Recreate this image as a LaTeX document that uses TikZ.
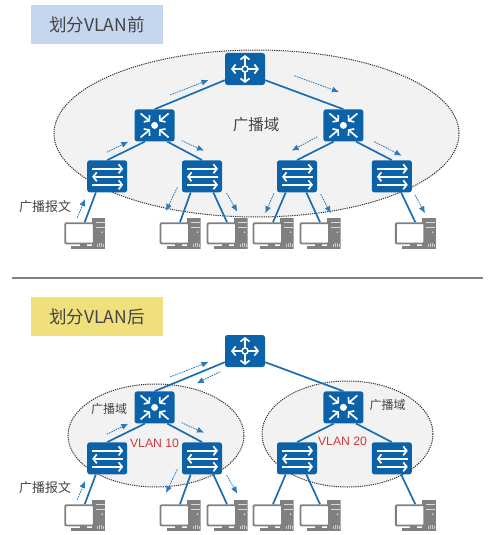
\documentclass[tikz,border=0pt]{standalone}
\usepackage{fontspec}
\setmainfont{Liberation Sans}
\newfontfamily\cjk{Noto Sans CJK SC}
\usetikzlibrary{arrows.meta, positioning, shapes.geometric}
\definecolor{netblue}{HTML}{0B62A8}
\definecolor{linkblue}{HTML}{1A6DB3}
\definecolor{flowblue}{HTML}{2A78BE}
\definecolor{pcgray}{HTML}{808080}
\definecolor{textgray}{HTML}{444444}
\definecolor{titleblue}{HTML}{C5D6EF}
\definecolor{titleyellow}{HTML}{F0E07C}
\definecolor{vlanred}{HTML}{D5373D}

\begin{document}
\begin{tikzpicture}[
  x=1pt, y=-1pt,
  iconline/.style={white, line width=1.7pt, -{Straight Barb[length=3.5pt,width=9pt]}},
  routerbox/.style={rectangle, rounded corners=2.5pt, fill=netblue, inner sep=0pt, minimum width=40pt, minimum height=32pt,
    path picture={\begin{scope}[shift={(path picture bounding box.center)}]
      \draw[iconline] (0,0) -- (0,-14);
      \draw[iconline] (0,0) -- (0,14);
      \draw[iconline] (0,0) -- (-14,0);
      \draw[iconline] (0,0) -- (14,0);
      \draw[white, line width=1.5pt, fill=netblue] (0,0) circle (3pt);
    \end{scope}}},
  corebox/.style={rectangle, rounded corners=2.5pt, fill=netblue, inner sep=0pt, minimum width=40pt, minimum height=32pt,
    path picture={\begin{scope}[shift={(path picture bounding box.center)}]
      \draw[iconline] (-14,-12) -- (-4.5,-4);
      \draw[iconline] (14,-12) -- (4.5,-4);
      \draw[iconline] (-14,12) -- (-4.5,4);
      \draw[iconline] (14,12) -- (4.5,4);
      \fill[white] (0,0) circle (3.5pt);
    \end{scope}}},
  swbox/.style={rectangle, rounded corners=2.5pt, fill=netblue, inner sep=0pt, minimum width=40pt, minimum height=32pt,
    path picture={\begin{scope}[shift={(path picture bounding box.center)}]
      \draw[iconline] (-15,-7.5) -- (16,-7.5);
      \draw[iconline] (16,0.5) -- (-15,0.5);
      \draw[iconline] (-15,8.5) -- (16,8.5);
    \end{scope}}},
  pcbox/.style={rectangle, inner sep=0pt, minimum width=41pt, minimum height=31pt,
    path picture={\begin{scope}[shift={(path picture bounding box.center)}]
      \fill[pcgray] (7,-15.5) rectangle (20.5,15.5);
      \draw[white!70!pcgray, line width=0.6pt] (11,-10.5) -- (20,-10.5);
      \draw[white!70!pcgray, line width=0.6pt] (11,-6) -- (20,-6);
      \fill[white!80!pcgray] (17.5,-1) circle (0.8pt);
      \draw[white!60!pcgray, line width=0.5pt] (13,14) -- (13,11) (15,14) -- (15,10) (17,14) -- (17,10) (19,14) -- (19,11);
      \fill[pcgray] (-5,10) rectangle (2,14);
      \fill[pcgray] (-13.5,13) rectangle (7.5,15.5);
      \draw[pcgray, line width=1.9pt, fill=white, rounded corners=1pt] (-19.5,-10) rectangle (9,10.3);
    \end{scope}}},
  link/.style={linkblue, line width=1.7pt},
  flow/.style={flowblue, dash pattern=on 1.6pt off 0.9pt, line width=0.8pt, -{Latex[length=7pt,width=6pt]}},
  bcast/.style={ellipse, draw=black!80, fill=black!5, dash pattern=on 1.2pt off 1pt, line width=1pt, inner sep=0pt},
  titlebox/.style={rectangle, minimum width=132pt, minimum height=39pt, inner sep=0pt, text=textgray, font=\cjk\fontsize{17.5}{19}\selectfont},
  lbl/.style={inner sep=0pt, text=textgray, font=\cjk\fontsize{13}{15}\selectfont},
  vlan/.style={inner sep=0pt, text=vlanred, font=\fontsize{12.2}{14}\selectfont}
]
\useasboundingbox (0,0) rectangle (491,535);

% before
\node[titlebox, fill=titleblue] (title1) at (97,25) {划分VLAN前};
\node[bcast, minimum width=405pt, minimum height=167pt] (bcast1) at (256.5,133.5) {};
\node[lbl, font=\cjk\fontsize{15.5}{17}\selectfont] (name1) at (256,125) {广播域};
\node[routerbox] (router1) at (245,69) {};
\node[corebox, below left=24pt and 50pt of router1] (coreL1) {};
\node[corebox, below right=24pt and 58pt of router1] (coreR1) {};
\node[swbox, below left=18.5pt and 7pt of coreL1] (swA1) {};
\node[swbox, below right=18.5pt and 7pt of coreL1] (swB1) {};
\node[swbox, below left=18.5pt and 6pt of coreR1] (swC1) {};
\node[swbox, below right=18.5pt and 8pt of coreR1] (swD1) {};
\node[pcbox, below=25pt of swA1, xshift=-22.5pt] (pcA1) {};
\node[pcbox, below=25pt of swB1, xshift=-22pt] (pcB1) {};
\node[pcbox, below=25pt of swB1, xshift=25pt] (pcC1) {};
\node[pcbox, below=25pt of swC1, xshift=-24pt] (pcD1) {};
\node[pcbox, below=25pt of swC1, xshift=23pt] (pcE1) {};
\node[pcbox, below=25pt of swD1, xshift=23.5pt] (pcF1) {};
\node[lbl] (msg1) at (45,207) {广播报文};

\draw[link] (coreL1.north) -- (router1.209);
\draw[link] (coreR1.north) -- (router1.-29);
\draw[link] (coreL1.239) -- (swA1.north);
\draw[link] (coreL1.-52) -- (swB1.north);
\draw[link] (coreR1.239) -- (swC1.north);
\draw[link] (coreR1.-52) -- (swD1.north);
\draw[link] (swA1.235) -- ([yshift=-4.7pt]pcA1.north);
\draw[link] (swB1.235) -- ([yshift=-4.7pt]pcB1.north);
\draw[link] (swB1.-55) -- ([yshift=-4.7pt]pcC1.north);
\draw[link] (swC1.235) -- ([yshift=-4.7pt]pcD1.north);
\draw[link] (swC1.-60) -- ([yshift=-4.7pt]pcE1.north);
\draw[link] (swD1.-60) -- ([yshift=-4.7pt]pcF1.north);

\coordinate (a1s) at (170,95);       \coordinate (a1e) at (208.5,80);   \draw[flow] (a1s) -- (a1e);
\coordinate (a2s) at (294.3,75.7);   \coordinate (a2e) at (339,92);     \draw[flow] (a2s) -- (a2e);
\coordinate (a3s) at (106.7,152.3);  \coordinate (a3e) at (128.3,141.7); \draw[flow] (a3s) -- (a3e);
\coordinate (a4s) at (181.7,140.7);  \coordinate (a4e) at (204,150.7);  \draw[flow] (a4s) -- (a4e);
\coordinate (a5s) at (317.3,136.7);  \coordinate (a5e) at (291.7,150.7); \draw[flow] (a5s) -- (a5e);
\coordinate (a6s) at (374.3,141.7);  \coordinate (a6e) at (401.7,155.7); \draw[flow] (a6s) -- (a6e);
\coordinate (a7s) at (77.3,217.7);   \coordinate (a7e) at (85,199);     \draw[flow] (a7s) -- (a7e);
\coordinate (a8s) at (177.3,187.3);  \coordinate (a8e) at (166,211);    \draw[flow] (a8s) -- (a8e);
\coordinate (a9s) at (226.7,193.3);  \coordinate (a9e) at (237.3,211.7); \draw[flow] (a9s) -- (a9e);
\coordinate (a10s) at (274,193.3);   \coordinate (a10e) at (265.3,213.3); \draw[flow] (a10s) -- (a10e);
\coordinate (a11s) at (320.7,194.3); \coordinate (a11e) at (330.7,213.3); \draw[flow] (a11s) -- (a11e);
\coordinate (a12s) at (415,195);     \coordinate (a12e) at (425,213.3); \draw[flow] (a12s) -- (a12e);

% separator
\coordinate (sepL) at (12,278);
\coordinate (sepR) at (483,278);
\draw[pcgray, line width=1.5pt] (sepL) -- (sepR);

% after
\node[titlebox, fill=titleyellow] (title2) at (97,316.5) {划分VLAN后};
\node[bcast, minimum width=176pt, minimum height=103pt] (bcastL) at (156,435.5) {};
\node[bcast, minimum width=171pt, minimum height=106pt] (bcastR) at (347.5,434) {};
\node[routerbox] (router2) at (245,351) {};
\node[corebox, below left=24pt and 50pt of router2] (coreL2) {};
\node[corebox, below right=24pt and 58pt of router2] (coreR2) {};
\node[swbox, below left=18.5pt and 7pt of coreL2] (swA2) {};
\node[swbox, below right=18.5pt and 7pt of coreL2] (swB2) {};
\node[swbox, below left=18.5pt and 6pt of coreR2] (swC2) {};
\node[swbox, below right=18.5pt and 8pt of coreR2] (swD2) {};
\node[pcbox, below=25pt of swA2, xshift=-22.5pt] (pcA2) {};
\node[pcbox, below=25pt of swB2, xshift=-22pt] (pcB2) {};
\node[pcbox, below=25pt of swB2, xshift=25pt] (pcC2) {};
\node[pcbox, below=25pt of swC2, xshift=-24pt] (pcD2) {};
\node[pcbox, below=25pt of swC2, xshift=23pt] (pcE2) {};
\node[pcbox, below=25pt of swD2, xshift=23.5pt] (pcF2) {};
\node[lbl] (msg2) at (45,488) {广播报文};
\node[lbl, font=\cjk\fontsize{12}{14}\selectfont] (nameL) at (109,409) {广播域};
\node[lbl, font=\cjk\fontsize{12}{14}\selectfont] (nameR) at (387.5,405) {广播域};
\node[vlan] (vlan10) at (154.5,443) {VLAN 10};
\node[vlan] (vlan20) at (342.5,441) {VLAN 20};

\draw[link] (coreL2.north) -- (router2.209);
\draw[link] (coreR2.north) -- (router2.-29);
\draw[link] (coreL2.239) -- (swA2.north);
\draw[link] (coreL2.-52) -- (swB2.north);
\draw[link] (coreR2.239) -- (swC2.north);
\draw[link] (coreR2.-52) -- (swD2.north);
\draw[link] (swA2.235) -- ([yshift=-4.7pt]pcA2.north);
\draw[link] (swB2.235) -- ([yshift=-4.7pt]pcB2.north);
\draw[link] (swB2.-55) -- ([yshift=-4.7pt]pcC2.north);
\draw[link] (swC2.235) -- ([yshift=-4.7pt]pcD2.north);
\draw[link] (swC2.-60) -- ([yshift=-4.7pt]pcE2.north);
\draw[link] (swD2.-60) -- ([yshift=-4.7pt]pcF2.north);

\coordinate (b1s) at (170,377);      \coordinate (b1e) at (208.5,362);  \draw[flow] (b1s) -- (b1e);
\coordinate (b2s) at (220,371.7);    \coordinate (b2e) at (196.7,383.3); \draw[flow] (b2s) -- (b2e);
\coordinate (b3s) at (106.7,434.3);  \coordinate (b3e) at (128.3,423.7); \draw[flow] (b3s) -- (b3e);
\coordinate (b4s) at (181.7,422.7);  \coordinate (b4e) at (204,432.7);  \draw[flow] (b4s) -- (b4e);
\coordinate (b5s) at (77.3,499.7);   \coordinate (b5e) at (85,481);     \draw[flow] (b5s) -- (b5e);
\coordinate (b6s) at (177.3,469.3);  \coordinate (b6e) at (166,493);    \draw[flow] (b6s) -- (b6e);
\coordinate (b7s) at (226.7,475.3);  \coordinate (b7e) at (237.3,493.7); \draw[flow] (b7s) -- (b7e);
\end{tikzpicture}
\end{document}
